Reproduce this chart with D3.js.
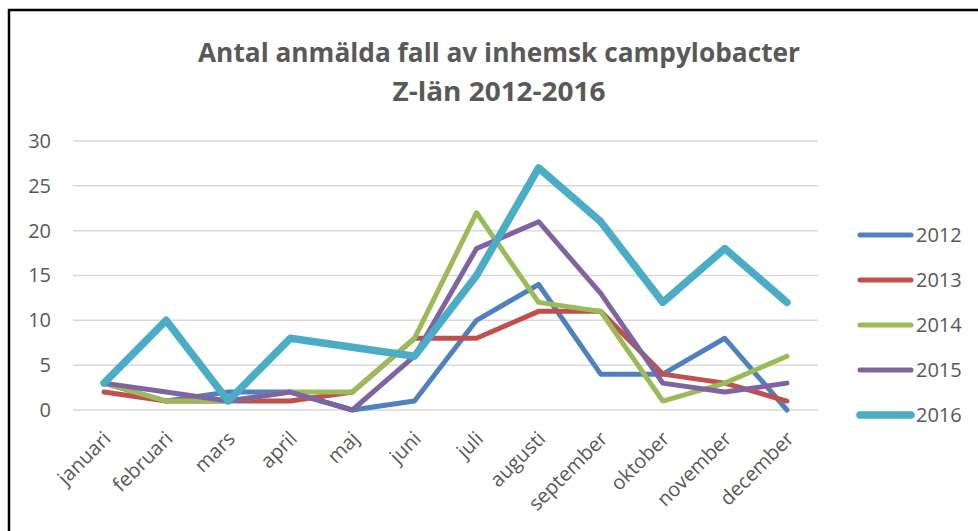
<!DOCTYPE html>
<html>
<head>
<meta charset="utf-8">
<script src="https://cdn.jsdelivr.net/npm/d3@7"></script>
<style>
  body { margin: 0; background: #fff; }
  text { font-family: "Open Sans", sans-serif; fill: #595959; }
</style>
</head>
<body>
<div id="chartArea"></div>
<script>
const width = 978;
const height = 531;

const months = ["januari", "februari", "mars", "april", "maj", "juni", "juli",
    "augusti", "september", "oktober", "november", "december"];
const years = ["2012", "2013", "2014", "2015", "2016"];
const values2012 = [3, 1, 2, 2, 0, 1, 10, 14, 4, 4, 8, 0];
const values2013 = [2, 1, 1, 1, 2, 8, 8, 11, 11, 4, 3, 1];
const values2014 = [3, 1, 1, 2, 2, 8, 22, 12, 11, 1, 3, 6];
const values2015 = [3, 2, 1, 2, 0, 6, 18, 21, 13, 3, 2, 3];
const values2016 = [3, 10, 1, 8, 7, 6, 15, 27, 21, 12, 18, 12];
const yTicks = [0, 5, 10, 15, 20, 25, 30];
const colors = ["#4F81BD", "#C0504D", "#9BBB59", "#8064A2", "#4BACC6"];

const series = [values2012, values2013, values2014, values2015, values2016]
    .map((v, i) => ({ year: years[i], values: v, color: colors[i] }));

const svg = d3.select("#chartArea")
    .append("svg")
    .attr("width", width)
    .attr("height", height);

// ram runt diagrammet
svg.append("path")
    .attr("d", "M9,531 V10 H978")
    .attr("fill", "none")
    .attr("stroke", "#000")
    .attr("stroke-width", 2.5);

const x = d3.scaleBand().domain(months).range([73, 818]);
const y = d3.scaleLinear().domain([0, 30]).range([410, 141]);

// titel
const title = svg.append("g").attr("font-weight", "bold");
title.append("text")
    .attr("x", 499).attr("y", 62)
    .attr("text-anchor", "middle")
    .attr("font-size", 27)
    .attr("textLength", 602)
    .attr("lengthAdjust", "spacingAndGlyphs")
    .text("Antal anmälda fall av inhemsk campylobacter");
title.append("text")
    .attr("x", 499).attr("y", 101)
    .attr("text-anchor", "middle")
    .attr("font-size", 27)
    .attr("textLength", 213)
    .attr("lengthAdjust", "spacingAndGlyphs")
    .text("Z-län 2012-2016");

// rutnät
svg.append("g")
    .selectAll("line")
    .data(yTicks)
    .enter().append("line")
    .attr("x1", 73).attr("x2", 818)
    .attr("y1", d => y(d)).attr("y2", d => y(d))
    .attr("stroke", "#D9D9D9")
    .attr("stroke-width", 1.5);

const yAxis = svg.append("g")
    .attr("transform", "translate(51,0)")
    .call(d3.axisLeft(y).tickValues(yTicks).tickSize(0).tickPadding(0));
yAxis.select(".domain").remove();
yAxis.selectAll("text")
    .attr("font-size", 20)
    .attr("font-family", "Open Sans")
    .attr("fill", "#595959");

const xAxis = svg.append("g")
    .attr("transform", "translate(0,418)")
    .call(d3.axisBottom(x).tickSize(0).tickPadding(0));
xAxis.select(".domain").remove();
xAxis.selectAll("text")
    .attr("font-size", 20)
    .attr("font-family", "Open Sans")
    .attr("fill", "#595959")
    .attr("text-anchor", "end")
    .attr("dy", "0.35em")
    .attr("transform", "translate(3,17) rotate(-45)");

const line = d3.line()
    .x((d, i) => x(months[i]) + x.bandwidth() / 2)
    .y(d => y(d));

svg.append("g")
    .selectAll("path")
    .data(series)
    .enter().append("path")
    .attr("d", d => line(d.values))
    .attr("fill", "none")
    .attr("stroke", d => d.color)
    .attr("stroke-width", d => d.year === "2016" ? 7.5 : 5)
    .attr("stroke-linejoin", "round")
    .attr("stroke-linecap", "round");

// förklaring
const legend = svg.append("g")
    .selectAll("g")
    .data(series)
    .enter().append("g")
    .attr("transform", (d, i) => `translate(0,${235 + i * 45})`);
legend.append("line")
    .attr("x1", 860).attr("x2", 911)
    .attr("stroke", d => d.color)
    .attr("stroke-width", d => d.year === "2016" ? 7.5 : 5)
    .attr("stroke-linecap", "round");
legend.append("text")
    .attr("x", 916)
    .attr("dy", "0.35em")
    .attr("font-size", 20)
    .text(d => d.year);
</script>
</body>
</html>
